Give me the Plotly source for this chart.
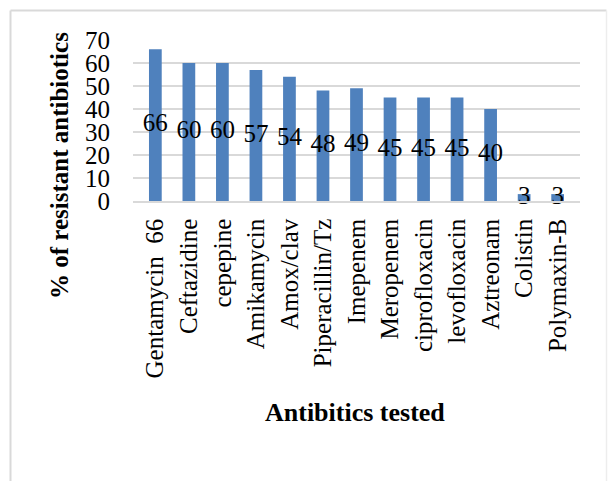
import plotly.graph_objects as go

antibiotics = ["Gentamycin\u00a0\u00a066", "Ceftazidine", "cepepine", "Amikamycin", "Amox/clav",
               "Piperacillin/Tz", "Imepenem", "Meropenem", "ciprofloxacin", "levofloxacin",
               "Aztreonam", "Colistin", "Polymaxin-B"]
resistant_pct = [66, 60, 60, 57, 54, 48, 49, 45, 45, 45, 40, 3, 3]
y_ticks = [0, 10, 20, 30, 40, 50, 60, 70]

W, H = 608, 481
L, R, T, B = 133, 28, 40, 280
pw, ph = W - L - R, H - T - B

def px_x(x):
    return (x - L) / pw

def px_y(y):
    return (H - B - y) / ph

serif = "Liberation Serif, Times New Roman, serif"

fig = go.Figure()
fig.add_trace(go.Bar(
    x=antibiotics, y=resistant_pct,
    marker=dict(color="#4F81BD", line=dict(width=0)),
    hoverinfo="skip",
))
# value labels centred on each bar
fig.add_trace(go.Scatter(
    x=antibiotics, y=[v / 2 for v in resistant_pct],
    text=[str(v) for v in resistant_pct],
    mode="text", textposition="middle center",
    textfont=dict(family=serif, size=25, color="black"),
    hoverinfo="skip", cliponaxis=False,
))

fig.update_layout(
    width=W, height=H,
    margin=dict(l=L, r=R, t=T, b=B, pad=0),
    paper_bgcolor="white", plot_bgcolor="white",
    showlegend=False, bargap=0.62,
    font=dict(family=serif, color="black"),
    xaxis=dict(
        tickangle=-90, tickfont=dict(family=serif, size=25, color="black"),
        showgrid=False, showline=True, linecolor="#D9D9D9", linewidth=1.5,
        ticks="", ticklabelstandoff=6,
    ),
    yaxis=dict(
        range=[0, 70], tickvals=y_ticks,
        tickfont=dict(family=serif, size=25, color="black"),
        showgrid=True, gridcolor="#D9D9D9", gridwidth=1.5,
        zeroline=False, showline=False, ticks="", ticklabelstandoff=22,
    ),
    annotations=[
        dict(text="<b>% of resistant antibiotics</b>", xref="paper", yref="paper",
             x=px_x(59), y=px_y(166), textangle=-90, showarrow=False,
             xanchor="center", yanchor="middle",
             font=dict(family=serif, size=25, color="black")),
        dict(text="<b>Antibitics tested</b>", xref="paper", yref="paper",
             x=px_x(355), y=px_y(412), showarrow=False,
             xanchor="center", yanchor="middle",
             font=dict(family=serif, size=26, color="black")),
    ],
    shapes=[
        dict(type="line", xref="paper", yref="paper", x0=px_x(10.5), x1=px_x(10.5),
             y0=px_y(10.5), y1=px_y(490), line=dict(color="#D9D9D9", width=2)),
        dict(type="line", xref="paper", yref="paper", x0=px_x(10.5), x1=px_x(606.5),
             y0=px_y(10.5), y1=px_y(10.5), line=dict(color="#D9D9D9", width=2)),
        dict(type="line", xref="paper", yref="paper", x0=px_x(606.5), x1=px_x(606.5),
             y0=px_y(10.5), y1=px_y(490), line=dict(color="#EDEDED", width=1.5)),
    ],
)

fig.write_html("out.html")
